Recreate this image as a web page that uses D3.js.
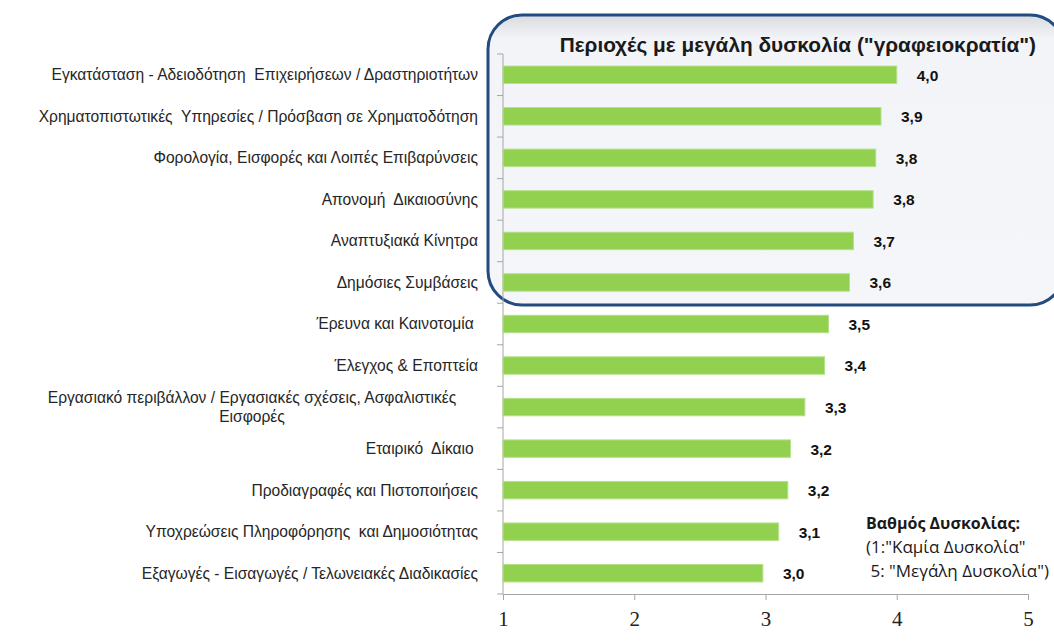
<!DOCTYPE html>
<html>
<head>
<meta charset="utf-8">
<script src="https://cdn.jsdelivr.net/npm/d3@7"></script>
<style>
  body { margin: 0; background: #fff; }
  svg { display: block; }
</style>
</head>
<body>
<div id="container"></div>
<script>
/* DATA */
const categories = [
  "Εγκατάσταση - Αδειοδότηση  Επιχειρήσεων / Δραστηριοτήτων",
  "Χρηματοπιστωτικές  Υπηρεσίες / Πρόσβαση σε Χρηματοδότηση",
  "Φορολογία, Εισφορές και Λοιπές Επιβαρύνσεις",
  "Απονομή  Δικαιοσύνης",
  "Αναπτυξιακά Κίνητρα",
  "Δημόσιες Συμβάσεις",
  "Έρευνα και Καινοτομία ",
  "Έλεγχος & Εποπτεία",
  "Εργασιακό περιβάλλον / Εργασιακές σχέσεις, Ασφαλιστικές|Εισφορές",
  "Εταιρικό  Δίκαιο ",
  "Προδιαγραφές και Πιστοποιήσεις",
  "Υποχρεώσεις Πληροφόρησης  και Δημοσιότητας",
  "Εξαγωγές - Εισαγωγές / Τελωνειακές Διαδικασίες"
];
const values = [4.0, 3.88, 3.84, 3.82, 3.67, 3.64, 3.48, 3.45, 3.30, 3.19, 3.17, 3.10, 2.98];
const valueLabels = ["4,0", "3,9", "3,8", "3,8", "3,7", "3,6", "3,5", "3,4", "3,3", "3,2", "3,2", "3,1", "3,0"];
const xTicks = [1, 2, 3, 4, 5];
const title = "Περιοχές με μεγάλη δυσκολία (\"γραφειοκρατία\")";
const note = ["Βαθμός Δυσκολίας:", "(1:\"Καμία Δυσκολία\"", " 5: \"Μεγάλη Δυσκολία\")"];

/* CONSTANTS */
const width = 1054, height = 642;
const margin = {top: 54, left: 503, bottom: 48, right: 24};

// keep repeated / trailing spaces visible in svg text
const keepSpaces = s => s.replace(/ (?= )/g, "\u00a0").replace(/^ /, "\u00a0").replace(/ $/, "\u00a0");

const svg = d3.select("#container").append("svg")
  .attr("width", width)
  .attr("height", height);

// HIGHLIGHT BOX (behind everything)
const defs = svg.append("defs");
const grad = defs.append("linearGradient").attr("id", "boxgrad")
  .attr("x1", 0).attr("y1", 0).attr("x2", 0).attr("y2", 1);
grad.append("stop").attr("offset", "0%").attr("stop-color", "#d9dbdf");
grad.append("stop").attr("offset", "8%").attr("stop-color", "#f3f4f7");
grad.append("stop").attr("offset", "100%").attr("stop-color", "#f5f6f9");

svg.append("rect")
  .attr("x", 488).attr("y", 15)
  .attr("width", 576).attr("height", 290)
  .attr("rx", 34).attr("ry", 34)
  .attr("fill", "url(#boxgrad)")
  .attr("stroke", "#224b80")
  .attr("stroke-width", 3);

// SCALES
const xScale = d3.scaleLinear()
  .domain([1, 5])
  .range([margin.left, width - margin.right - 2]);

const yScale = d3.scaleBand()
  .domain(categories)
  .range([margin.top, height - margin.bottom])
  .paddingInner(0.58)
  .paddingOuter(0.29);

const axisY = height - margin.bottom;

// AXES
const xAxis = d3.axisBottom(xScale).tickValues(xTicks).tickSize(6).tickFormat(d3.format("d"));
const gx = svg.append("g")
  .attr("transform", `translate(0,${axisY})`)
  .call(xAxis);
gx.select(".domain").attr("stroke", "#a6a6a6");
gx.selectAll(".tick line").attr("stroke", "#a6a6a6");
gx.selectAll(".tick text")
  .attr("dy", "1.1em")
  .style("font-family", "'Liberation Serif', 'DejaVu Serif', serif")
  .style("font-size", "21px")
  .attr("fill", "#222");

// category axis: line plus boundary ticks
const step = yScale.step();
const boundaries = d3.range(categories.length + 1).map(i => margin.top + i * step);
svg.append("line")
  .attr("x1", margin.left).attr("x2", margin.left)
  .attr("y1", margin.top).attr("y2", axisY)
  .attr("stroke", "#a6a6a6");
svg.selectAll(".ytick")
  .data(boundaries)
  .join("line")
  .attr("class", "ytick")
  .attr("x1", margin.left - 6).attr("x2", margin.left)
  .attr("y1", d => d).attr("y2", d => d)
  .attr("stroke", "#a6a6a6");

// BARS
svg.selectAll(".bar")
  .data(values)
  .join("rect")
  .attr("class", "bar")
  .attr("x", xScale(1))
  .attr("y", (d, i) => yScale(categories[i]))
  .attr("width", d => xScale(d) - xScale(1))
  .attr("height", yScale.bandwidth())
  .attr("fill", "#92d050")
  .attr("stroke", "#b5e08a")
  .attr("stroke-width", 1);

// VALUE LABELS
svg.selectAll(".val")
  .data(values)
  .join("text")
  .attr("class", "val")
  .attr("x", d => xScale(d) + 20)
  .attr("y", (d, i) => yScale(categories[i]) + yScale.bandwidth() / 2)
  .attr("dy", "0.38em")
  .style("font-family", "'Liberation Sans', Arial, sans-serif")
  .style("font-size", "15.5px")
  .style("font-weight", "bold")
  .attr("fill", "#111")
  .text((d, i) => valueLabels[i]);

// CATEGORY LABELS
const labelG = svg.append("g")
  .style("font-family", "'Liberation Sans', Arial, sans-serif")
  .style("font-size", "15.6px")
  .attr("fill", "#262626");

categories.forEach((c, i) => {
  const cy = yScale(c) + yScale.bandwidth() / 2;
  const lines = c.split("|");
  if (lines.length === 1) {
    labelG.append("text")
      .attr("x", 478)
      .attr("y", cy)
      .attr("dy", "0.35em")
      .attr("text-anchor", "end")
      .text(keepSpaces(c));
  } else {
    const t = labelG.append("text").attr("text-anchor", "middle");
    lines.forEach((ln, j) => {
      t.append("tspan")
        .attr("x", 252)
        .attr("y", cy + (j - (lines.length - 1) / 2) * 19)
        .attr("dy", "0.35em")
        .text(keepSpaces(ln));
    });
  }
});

// TITLE
svg.append("text")
  .attr("x", 1036).attr("y", 52)
  .attr("text-anchor", "end")
  .style("font-family", "'Liberation Sans', Arial, sans-serif")
  .style("font-size", "20.8px")
  .style("font-weight", "bold")
  .attr("fill", "#1a1a1a")
  .text(title);

// NOTE
svg.selectAll(".note")
  .data(note)
  .join("text")
  .attr("class", "note")
  .attr("x", 866)
  .attr("y", (d, i) => 529 + i * 24)
  .style("font-family", "'Open Sans', 'Noto Sans', sans-serif")
  .style("font-size", (d, i) => i === 0 ? "16px" : "17px")
  .style("font-weight", (d, i) => i === 0 ? "bold" : "normal")
  .attr("fill", "#1a1a1a")
  .text(d => keepSpaces(d));
</script>
</body>
</html>
